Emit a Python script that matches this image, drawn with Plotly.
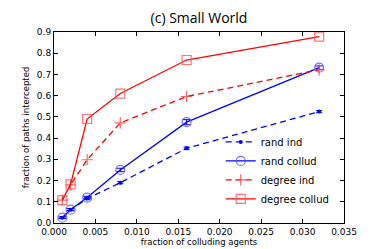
import plotly.graph_objects as go

x_vals = [0.001, 0.002, 0.004, 0.008, 0.016, 0.032]
rand_ind = [0.025, 0.063, 0.115, 0.19, 0.352, 0.525]
rand_ind_err = [0.004, 0.004, 0.005, 0.005, 0.006, 0.005]
rand_collud = [0.025, 0.063, 0.12, 0.25, 0.475, 0.732]
rand_collud_err = [0.004, 0.005, 0.006, 0.008, 0.012, 0.008]
degree_ind = [0.108, 0.18, 0.298, 0.472, 0.596, 0.722]
degree_collud = [0.108, 0.182, 0.49, 0.61, 0.768, 0.878]

x_ticks = [0.0, 0.005, 0.010, 0.015, 0.020, 0.025, 0.030, 0.035]
y_ticks = [0.0, 0.1, 0.2, 0.3, 0.4, 0.5, 0.6, 0.7, 0.8, 0.9]

BLUE = "#0000ff"
RED = "#ff0000"
font_fam = "DejaVu Sans"

fig = go.Figure()
fig.add_trace(go.Scatter(
    x=x_vals, y=rand_ind, name="rand ind", mode="lines+markers",
    line=dict(color=BLUE, width=1.3, dash="6px,4px"),
    marker=dict(symbol="circle", size=4, color=BLUE),
    error_y=dict(type="data", array=rand_ind_err, color=BLUE, thickness=1, width=3),
))
fig.add_trace(go.Scatter(
    x=x_vals, y=rand_collud, name="rand collud", mode="lines+markers",
    line=dict(color=BLUE, width=1.3),
    marker=dict(symbol="circle-open", size=9, color="rgba(80,80,255,0.8)", line=dict(width=1.2)),
    error_y=dict(type="data", array=rand_collud_err, color=BLUE, thickness=1, width=4),
))
fig.add_trace(go.Scatter(
    x=x_vals, y=degree_ind, name="degree ind", mode="lines+markers",
    line=dict(color=RED, width=1.3, dash="6px,4px"),
    marker=dict(symbol="cross-thin-open", size=8, color="rgba(255,80,80,0.9)", line=dict(width=1.2, color="rgba(255,80,80,0.9)")),
))
fig.add_trace(go.Scatter(
    x=x_vals, y=degree_collud, name="degree collud", mode="lines+markers",
    line=dict(color=RED, width=1.3),
    marker=dict(symbol="square-open", size=9, color="rgba(255,90,90,0.85)", line=dict(width=1.2)),
))

axis_common = dict(
    showline=True, mirror="ticks", linecolor="black", linewidth=1,
    ticks="inside", ticklen=4, tickcolor="black",
    showgrid=False, zeroline=False,
    tickfont=dict(family=font_fam, size=9, color="black"),
)

fig.update_layout(
    width=374, height=249,
    margin=dict(l=46, r=38, t=24, b=32),
    paper_bgcolor="white", plot_bgcolor="white",
    font=dict(family=font_fam, color="black"),
    title=dict(text="(c) Small World", x=0.5, xanchor="center", xref="paper",
               y=1, yref="container", yanchor="top", pad=dict(t=5),
               font=dict(family="Open Sans", size=14, color="black")),
    xaxis=dict(range=[0, 0.035], tickvals=x_ticks, tickformat=".3f",
               title=dict(text="fraction of colluding agents", font=dict(size=8.5), standoff=2),
               **axis_common),
    yaxis=dict(range=[0, 0.9], tickvals=y_ticks, tickformat=".1f",
               title=dict(text="fraction of paths intercepted", font=dict(size=8.5), standoff=5),
               **axis_common),
    legend=dict(x=0.575, y=0.05, xanchor="left", yanchor="bottom",
                bgcolor="rgba(0,0,0,0)", font=dict(family=font_fam, size=10),
                tracegroupgap=0, itemwidth=30),
    showlegend=True,
)

fig.write_html("out.html")
